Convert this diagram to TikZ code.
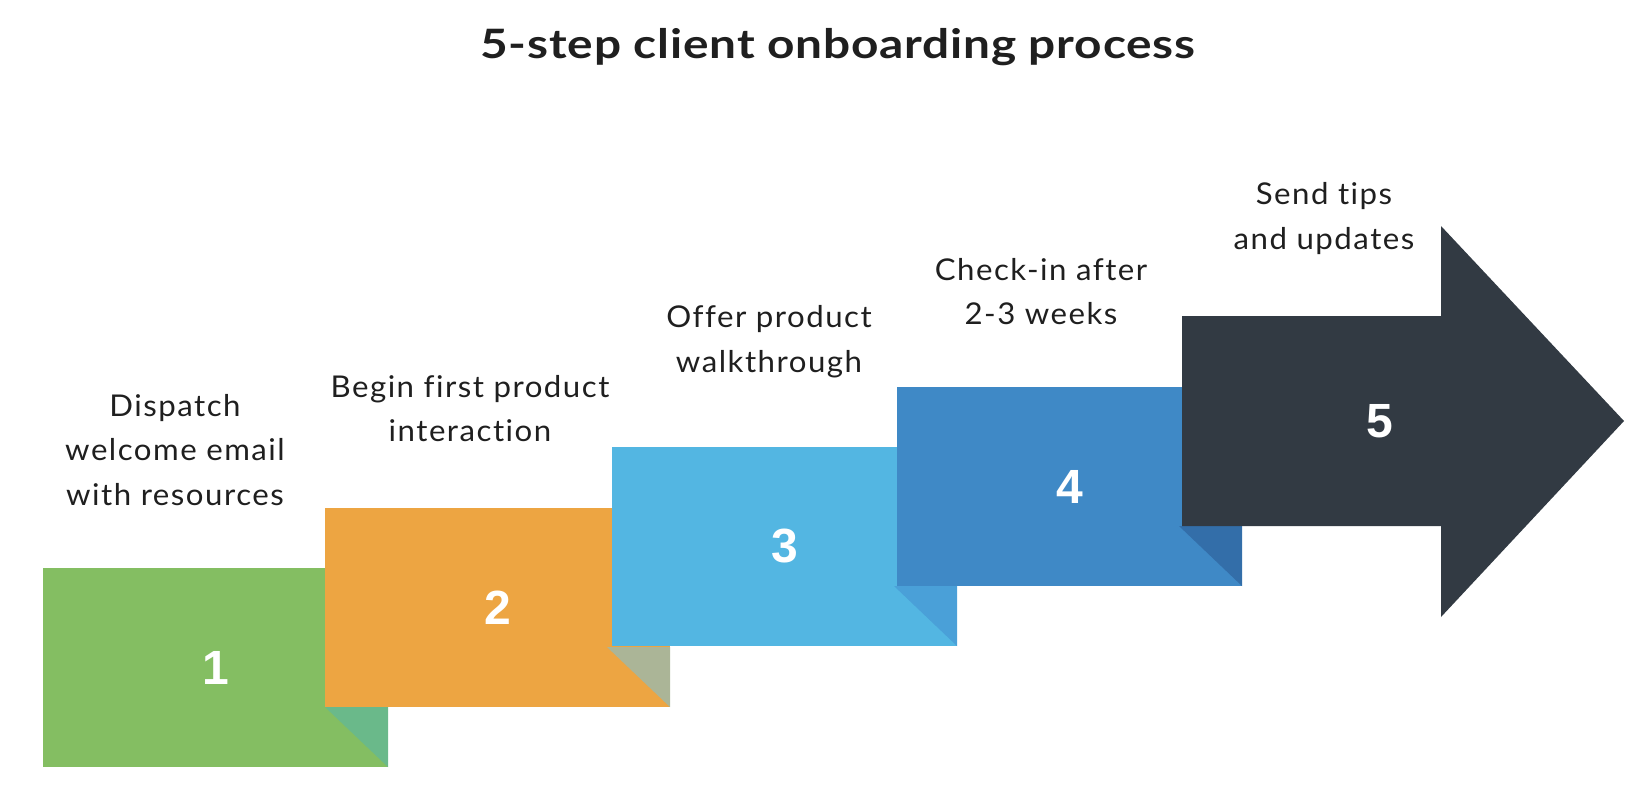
\documentclass[tikz,border=0pt]{standalone}
\usepackage{fontspec}
\setmainfont{Lato}
\newfontfamily\lblfont{Lato}[LetterSpace=5,FakeStretch=1.04,Ligatures=NoCommon]
\newfontfamily\titlefont{Lato}[LetterSpace=2,FakeStretch=1.18,Ligatures=NoCommon]
\newfontfamily\numfont{Liberation Sans}
\definecolor{stepgreen}{HTML}{84BE62}
\definecolor{foldgreen}{HTML}{6AB98A}
\definecolor{steporange}{HTML}{EDA542}
\definecolor{foldorange}{HTML}{ABB597}
\definecolor{stepcyan}{HTML}{53B6E2}
\definecolor{foldcyan}{HTML}{4AA0D8}
\definecolor{stepblue}{HTML}{3F89C6}
\definecolor{foldblue}{HTML}{336EA9}
\definecolor{stepdark}{HTML}{323A43}
\definecolor{inktext}{HTML}{1F1F1F}
\begin{document}
\begin{tikzpicture}[x=1pt,y=-1pt,
	lbl/.style={align=center,text=inktext,font=\lblfont\fontsize{30}{44.5}\selectfont,inner sep=0pt},
	num/.style={text=white,font=\numfont\bfseries\fontsize{48}{48}\selectfont,inner sep=0pt}]
	\useasboundingbox (0,0) rectangle (1650,798);
	\node[text=inktext,font=\titlefont\bfseries\fontsize{40.5}{44}\selectfont] (title) at (838,47) {5-step client onboarding process};
	\foreach \i/\x/\y/\c/\f in {1/43/568/stepgreen/foldgreen,2/325/508/steporange/foldorange,3/612/447/stepcyan/foldcyan,4/897/387/stepblue/foldblue} {
		\fill[\c] (\x,\y) rectangle ++(345,199);
		\fill[\f] (\x+282,\y+139) -- ++(63,0) -- ++(0,60) -- cycle;
		\node[num] (n\i) at (\x+172.5,\y+99.5) {\i};
	}
	\fill[stepdark] (1182,316) -- (1441,316) -- (1441,226) -- (1624,421) -- (1441,617) -- (1441,526) -- (1182,526) -- cycle;
	\node[num] (n5) at (1380,421) {5};
	\node[lbl] (t1) at (175,450) {Dispatch\\welcome email\\with resources};
	\node[lbl] (t2) at (470,408.5) {Begin first product\\interaction};
	\node[lbl] (t3) at (769,341.5) {Offer product\\walkthrough};
	\node[lbl] (t4) at (1041,291.5) {Check-in after\\2-3 weeks};
	\node[lbl] (t5) at (1324,218.5) {Send tips\\and updates};
\end{tikzpicture}
\end{document}
